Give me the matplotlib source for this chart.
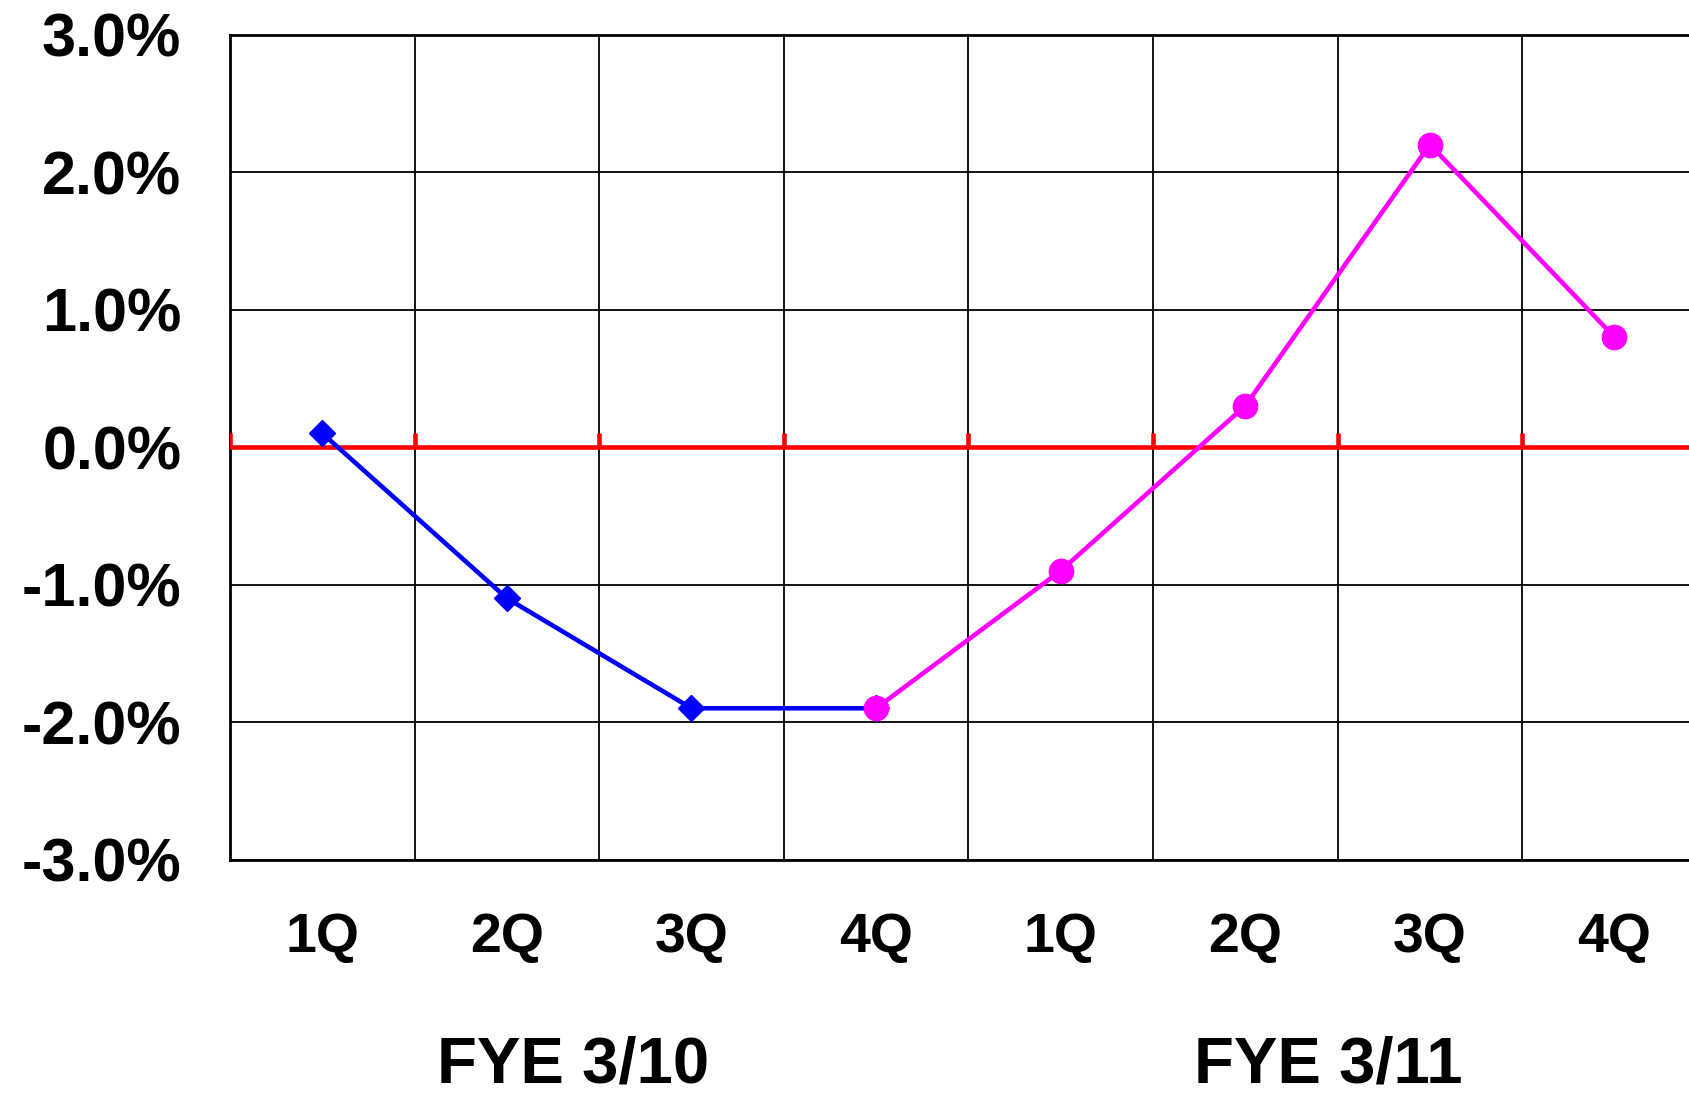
import matplotlib
matplotlib.use("Agg")
import matplotlib.pyplot as plt
import numpy as np

# Quarterly growth rates (%)
quarters = ["1Q", "2Q", "3Q", "4Q", "1Q", "2Q", "3Q", "4Q"]
fy10_values = [0.1, -1.1, -1.9, -1.9]          # FYE 3/10, 1Q-4Q
fy11_values = [-1.9, -0.9, 0.3, 2.2, 0.8]       # FYE 3/10 4Q through FYE 3/11 4Q
year_labels = ["FYE 3/10", "FYE 3/11"]
year_label_pos = [1.86, 5.95]
y_ticks = [-3, -2, -1, 0, 1, 2, 3]

FONT = ["Liberation Sans", "DejaVu Sans"]

fig = plt.figure(figsize=(16.9, 10.95), dpi=100)
W, H = 1690, 1095
left, bottom, top = 230, 859.5, 34.6
col_w = 184.6
ax = fig.add_axes([left / W, (H - bottom) / H, 8 * col_w / W, (bottom - top) / H])

ax.set_xlim(0, 8)
ax.set_ylim(-3, 3)

# grid: vertical lines at quarter boundaries, horizontal at each percent
ax.set_xticks(np.arange(0, 9), minor=True)
ax.set_xticks(np.arange(8) + 0.5)
ax.set_xticklabels(quarters, fontfamily=FONT, fontweight="bold", fontsize=40)
ax.set_yticks(y_ticks)
ax.set_yticklabels([f"{v:.1f}%" for v in y_ticks], fontfamily=FONT,
                   fontweight="bold", fontsize=44)
ax.tick_params(axis="x", which="both", length=0, pad=38)
ax.tick_params(axis="y", which="both", length=0, pad=35)
ax.grid(True, axis="x", which="minor", color="black", linewidth=1.3)
ax.grid(True, axis="y", which="major", color="black", linewidth=1.3)
ax.set_axisbelow(True)
for s in ax.spines.values():
    s.set_linewidth(2.0)
    s.set_color("black")

# zero line with small upward ticks at each quarter boundary
ax.axhline(0, color="#ff0000", linewidth=3.3, zorder=3)
ax.vlines(np.arange(0, 9), 0, 0.1, color="#ff0000", linewidth=3.3, zorder=3)

x10 = np.arange(len(fy10_values)) + 0.5
x11 = np.arange(len(fy11_values)) + 3.5
ax.plot(x10, fy10_values, color="#0000ff", linewidth=3.3, marker="D",
        markersize=13, zorder=4, clip_on=False)
ax.plot(x11, fy11_values, color="#ff00ff", linewidth=3.3, marker="o",
        markersize=17.5, zorder=5, clip_on=False)

for lbl, xp in zip(year_labels, year_label_pos):
    ax.text(xp, -4.5, lbl, ha="center", va="center", fontfamily=FONT,
            fontweight="bold", fontsize=47, clip_on=False)

fig.savefig("out.png", dpi=100)
